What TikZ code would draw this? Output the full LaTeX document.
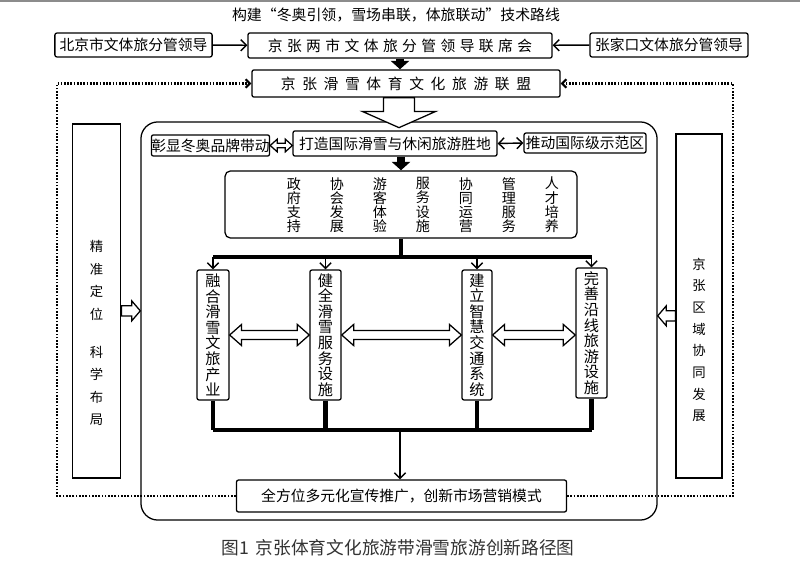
\documentclass[tikz,border=0pt]{standalone}
\usepackage{fontspec}
\setmainfont{Noto Sans CJK SC}
\newfontfamily\widefont[LetterSpace=30]{Noto Sans CJK SC}
\newfontfamily\widerfont[LetterSpace=45]{Noto Sans CJK SC}
\usetikzlibrary{arrows.meta,calc}

% hollow double arrow between two anchors
\newcommand{\hollowdbl}[5]{%
  \draw[hollow] let \p1=(#1), \p2=(#2) in
    (\x1,\y1) -- (\x1+#3,\y1+#4) -- (\x1+#3,\y1+#5) -- (\x2-#3,\y1+#5)
    -- (\x2-#3,\y1+#4) -- (\x2,\y1) -- (\x2-#3,\y1-#4) -- (\x2-#3,\y1-#5)
    -- (\x1+#3,\y1-#5) -- (\x1+#3,\y1-#4) -- cycle;}
% hollow single arrow, tail #1 to tip #2
\newcommand{\hollowone}[5]{%
  \draw[hollow] let \p1=(#1), \p2=(#2) in
    (\x1,\y1+#5) -- (\x2-#3,\y1+#5) -- (\x2-#3,\y1+#4) -- (\x2,\y1)
    -- (\x2-#3,\y1-#4) -- (\x2-#3,\y1-#5) -- (\x1,\y1-#5) -- cycle;}

\begin{document}
\begin{tikzpicture}[x=0.025cm, y=-0.025cm,
    box/.style={draw, line width=0.9pt, rounded corners=1.5pt, inner sep=0pt,
                font=\fontsize{10.5}{12}\selectfont},
    vbox/.style={box, align=center, font=\fontsize{10.8}{11.1}\selectfont},
    tallbox/.style={draw, line width=0.8pt, inner sep=0pt},
    talltext/.style={align=center, inner sep=0pt, font=\fontsize{9.5}{16}\selectfont},
    coltext/.style={align=center, inner sep=0pt, font=\fontsize{10}{10.1}\selectfont},
    thk/.style={line width=3pt},
    blkarr/.style={line width=5.5pt, -{Triangle[width=13pt,length=6pt]}},
    thinarr/.style={line width=1pt, -{Straight Barb[length=4pt,width=8pt]}},
    hollow/.style={draw, line width=0.9pt, fill=white},
    dotline/.style={line width=1.5pt, dash pattern=on 1.2pt off 1.1pt}
]
    \useasboundingbox (0,0) rectangle (800,570);
    \draw[black!45, line width=1.2pt] (0,1) -- (800,1);

    \node[font=\fontsize{10.6}{12}\selectfont] (title) at (396,15)
        {构建“冬奥引领，雪场串联，体旅联动”技术路线};

    % top row
    \node[box, minimum width=3.93cm, minimum height=0.6cm] (bj) at (133.5,45) {北京市文体旅分管领导};
    \node[box, minimum width=7.6cm, minimum height=0.63cm, font=\widefont\fontsize{10.5}{12}\selectfont]
        (council) at (400,45.5) {京张两市文体旅分管领导联席会};
    \node[box, minimum width=3.95cm, minimum height=0.6cm] (zjk) at (669,45) {张家口文体旅分管领导};
    \node[box, minimum width=7.7cm, minimum height=0.68cm, font=\widerfont\fontsize{10.5}{12}\selectfont]
        (alliance) at (406,83.5) {京张滑雪体育文化旅游联盟};

    \draw[thinarr] (bj) -- (council);
    \draw[thinarr] (zjk) -- (council);
    \draw[blkarr] (council.south) -- (council.south |- alliance.north);

    % frame and side boxes
    \node[draw, line width=0.9pt, rounded corners=12pt, minimum width=12.9cm,
          minimum height=9.95cm] (frame) at (399,321) {};
    \node[tallbox, minimum width=1.22cm, minimum height=8.85cm] (lbox) at (96.5,301) {};
    \node[talltext] (ltext) at (96.5,333) {精\\准\\定\\位\\[11pt]科\\学\\布\\局};
    \node[tallbox, minimum width=1.15cm, minimum height=8.6cm] (rbox) at (699,306) {};
    \node[talltext, font=\fontsize{9.5}{15.4}\selectfont] (rtext) at (699,340) {京\\张\\区\\域\\协\\同\\发\\展};

    \hollowone{[yshift=-7pt]lbox.east}{frame.west}{6pt}{7pt}{3.6pt}
    \hollowone{[yshift=-7pt]rbox.west}{frame.east}{-6pt}{7pt}{3.6pt}

    % inside frame
    \node[box, minimum width=2.93cm, minimum height=0.53cm] (brand) at (210.5,145.5) {彰显冬奥品牌带动};
    \node[box, minimum width=5.1cm, minimum height=0.63cm] (dest) at (395,143.5) {打造国际滑雪与休闲旅游胜地};
    \node[box, minimum width=3.05cm, minimum height=0.5cm] (demo) at (585,143) {推动国际级示范区};

    \hollowdbl{brand.east}{dest.west}{5pt}{4.5pt}{1.6pt}
    \draw[thinarr, {Straight Barb[length=4pt,width=8pt]}-{Straight Barb[length=4pt,width=8pt]}]
        (dest.east) -- (demo.west);

    \node[box, rounded corners=4pt, minimum width=8.8cm, minimum height=1.68cm] (cols) at (401,204.5) {};
    \foreach \t [count=\i] in {政\\府\\支\\持, 协\\会\\发\\展, 游\\客\\体\\验, 服\\务\\设\\施,
                               协\\同\\运\\营, 管\\理\\服\\务, 人\\才\\培\\养}
        \node[coltext] (c\i) at ({251+43*\i},205) {\t};
    \draw[blkarr] (dest.south -| cols.north) -- (cols.north);

    \node[vbox, minimum width=0.8cm, minimum height=3.25cm] (b1) at (213,335) {融\\合\\滑\\雪\\文\\旅\\产\\业};
    \node[vbox, minimum width=0.78cm, minimum height=3.25cm] (b2) at (325.5,335) {健\\全\\滑\\雪\\服\\务\\设\\施};
    \node[vbox, minimum width=0.75cm, minimum height=3.25cm] (b3) at (477,335) {建\\立\\智\\慧\\交\\通\\系\\统};
    \node[vbox, minimum width=0.78cm, minimum height=3.25cm] (b4) at (591.5,333) {完\\善\\沿\\线\\旅\\游\\设\\施};

    \coordinate (split) at (400,257);
    \coordinate (merge) at (400,430);
    \draw[thk] (cols.south) -- (cols.south |- split);
    \draw[thk] (b1.north |- split) -- (b4.north |- split);
    \foreach \b in {b1,b2,b3,b4}
        \draw[thinarr] (\b.north |- split) -- (\b.north);
    \foreach \b in {b1,b2,b3,b4}
        \draw[thk] (\b.south) -- (\b.south |- merge);
    \draw[thk] (b1.south |- merge) -- (b4.south |- merge);

    \hollowdbl{b1.east}{b2.west}{8.5pt}{7.5pt}{3.2pt}
    \hollowdbl{b2.east}{b3.west}{8.5pt}{7.5pt}{3.2pt}
    \hollowdbl{b3.east}{b4.west}{8.5pt}{7.5pt}{3.2pt}

    \node[box, minimum width=8.25cm, minimum height=0.8cm] (promo) at (401.5,496)
        {全方位多元化宣传推广，创新市场营销模式};
    \draw[thinarr] (merge) -- (merge |- promo.north);

    % big hollow arrow into the frame
    \draw[hollow] let \p1=(alliance.south), \p2=(frame.north) in
        (\x2-11pt,\y1) -- (\x2-11pt,\y2+7pt) -- (\x2-26pt,\y2+7pt) -- (\x2,\y2-4.5pt)
        -- (\x2+26pt,\y2+7pt) -- (\x2+11pt,\y2+7pt) -- (\x2+11pt,\y1) -- cycle;

    % dotted feedback loop
    \coordinate (leftx) at (57,0);
    \coordinate (rightx) at (733,0);
    \draw[dotline, -{Straight Barb[length=3pt,width=6pt]}]
        (promo.west) -- (promo.west -| leftx) -- (alliance.west -| leftx) -- (alliance.west);
    \draw[dotline, -{Straight Barb[length=3pt,width=6pt]}]
        (promo.east) -- (promo.east -| rightx) -- (alliance.east -| rightx) -- (alliance.east);

    \node[font=\fontsize{12.6}{14}\selectfont, text=black!80] (caption) at (398,548)
        {图1\, 京张体育文化旅游带滑雪旅游创新路径图};
\end{tikzpicture}
\end{document}
